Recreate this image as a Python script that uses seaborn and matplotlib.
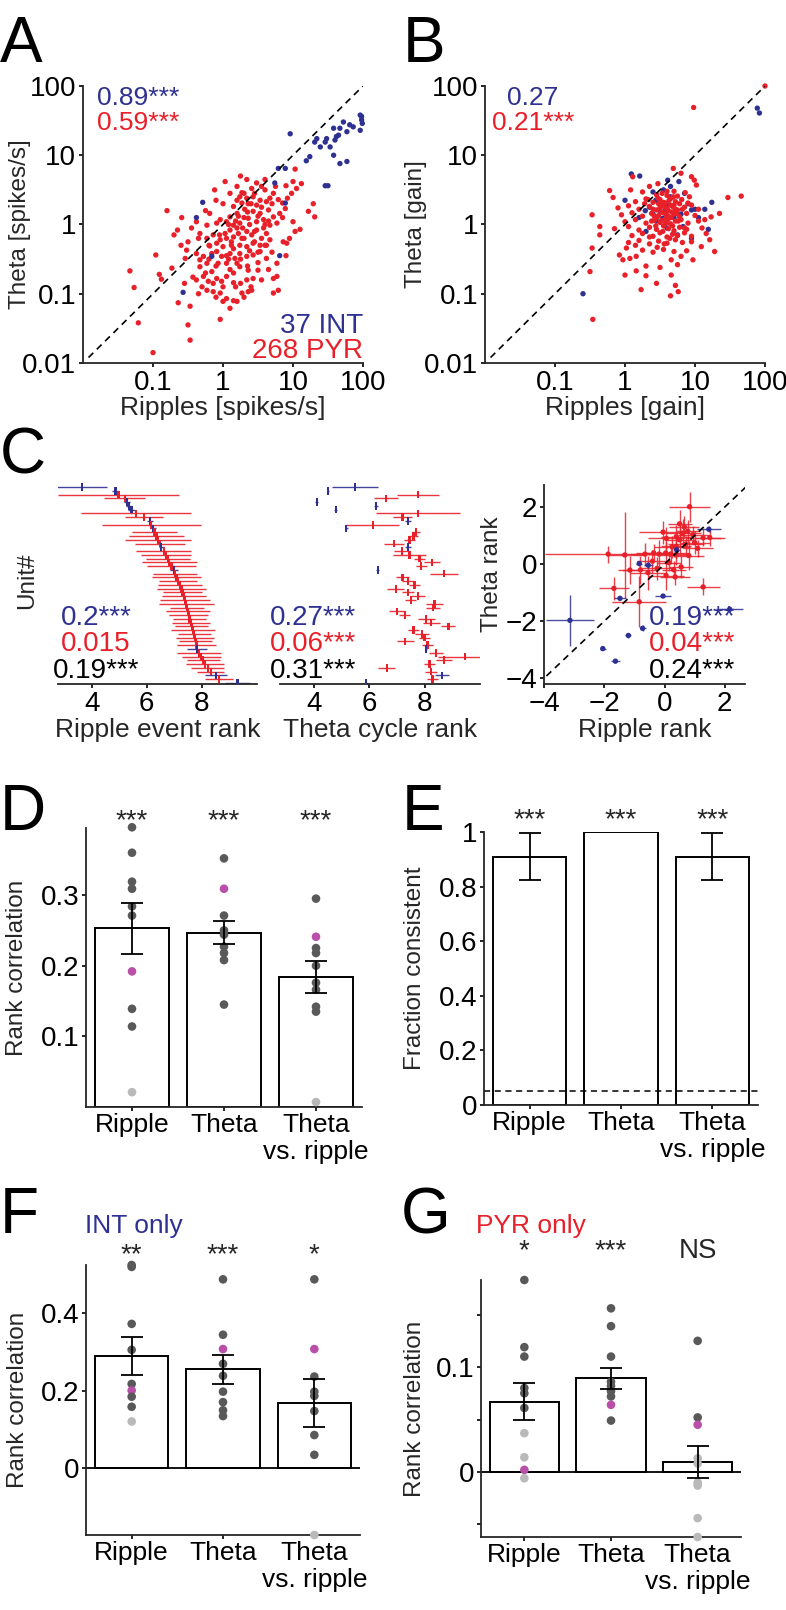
import numpy as np
import pandas as pd
import seaborn as sns
import matplotlib.pyplot as plt

sns.set_style("ticks")
plt.rcParams['font.family'] = ['Liberation Sans', 'DejaVu Sans']
plt.rcParams['axes.linewidth'] = 1.3
plt.rcParams['xtick.major.width'] = 1.2
plt.rcParams['ytick.major.width'] = 1.2
plt.rcParams['xtick.major.size'] = 3
plt.rcParams['ytick.major.size'] = 3
plt.rcParams['xtick.color'] = 'black'
plt.rcParams['ytick.color'] = 'black'

BLUE = '#2e3192'
RED = '#e8202a'
DARK = '#595959'
LIGHT = '#b9b9b9'
MAGENTA = '#b94fa9'

TICK = 20      # horizontal tick labels
XLAB = 19      # horizontal axis labels
YLAB = 17.5    # vertical axis labels
NOTE = 20      # correlation values, counts, stars

# ---------------- data ----------------
# A: log10 firing rates (ripples, theta)
a_int_log = [(0.96, 1.31), (1.96, 1.58), (1.98, 1.51), (1.99, 1.46), (1.96, 1.36), (1.81, 1.44),
             (1.72, 1.48), (1.67, 1.39), (1.65, 1.29), (1.62, 1.27), (1.58, 1.39), (1.48, 1.24),
             (1.46, 1.19), (1.53, 1.12), (1.58, 1.00), (1.67, 0.88), (1.77, 0.91), (1.34, 1.24),
             (1.24, 0.98), (1.19, 0.92), (1.46, 0.56), (1.50, 0.56), (0.89, 0.81), (0.79, 0.81),
             (0.74, 0.60), (0.89, 0.31), (-0.29, 0.32), (-0.38, 0.10), (-0.16, -0.46), (0.81, -0.45),
             (-0.57, -0.98), (1.86, 1.41), (1.77, 1.34), (1.60, 1.22), (1.39, 1.12), (1.31, 1.19),
             (1.98, 1.56)]
a_pyr_log = [(0.03, 0.62), (0.34, 0.65), (0.48, 0.60), (0.60, 0.65), (0.55, 0.55), (0.41, 0.52),
             (0.27, 0.46), (0.24, 0.40),
             (0.34, 0.38), (0.43, 0.40), (0.53, 0.35), (0.62, 0.33), (0.67, 0.38), (0.48, 0.28),
             (0.36, 0.30), (0.27, 0.31), (0.15, 0.26), (0.79, 0.36), (0.92, 0.38), (0.98, 0.45),
             (1.05, 0.52), (0.90, 0.56), (1.00, 0.62), (1.12, 0.59), (1.03, 0.80), (0.85, 0.31),
             (-0.19, 0.16), (-0.04, 0.07), (0.10, 0.11), (0.20, 0.16), (0.31, 0.22), (0.43, 0.19),
             (0.53, 0.16), (0.65, 0.21), (0.72, 0.11), (0.58, 0.07), (0.48, 0.04), (0.36, 0.09),
             (0.24, 0.02), (0.15, -0.01), (0.05, 0.04), (-0.09, 0.02), (-0.23, -0.01), (-0.38, 0.04),
             (0.81, 0.16), (0.89, 0.23), (0.77, 0.02), (0.67, -0.01), (1.00, 0.04), (1.22, 0.19),
             (1.29, 0.30), (1.31, 0.11),
             (-0.59, 0.10), (-0.65, -0.08), (-0.33, -0.13), (-0.23, -0.20), (-0.14, -0.15),
             (-0.04, -0.22), (0.03, -0.13), (0.10, -0.08), (0.15, -0.18), (0.22, -0.13), (0.27, -0.20),
             (0.34, -0.10), (0.41, -0.15), (0.48, -0.08), (0.55, -0.20), (0.62, -0.13), (0.67, -0.22),
             (0.53, -0.30), (0.43, -0.27), (0.34, -0.32), (0.24, -0.30), (0.12, -0.30), (0.00, -0.32),
             (-0.09, -0.27), (-0.19, -0.31), (1.10, -0.07), (1.03, -0.10), (0.86, -0.25), (0.91, -0.27),
             (-0.52, -0.37), (-0.38, -0.42), (-0.28, -0.46), (-0.16, -0.42), (-0.09, -0.39),
             (-0.02, -0.46), (0.10, -0.42), (0.17, -0.49), (0.24, -0.42), (0.34, -0.46), (0.43, -0.44),
             (0.53, -0.39), (0.62, -0.49), (0.77, -0.56), (0.20, -0.56), (0.05, -0.56), (-0.07, -0.56),
             (-0.23, -0.56), (-0.33, -0.51), (-0.54, -0.49), (-0.73, -0.63), (-0.96, -0.44),
             (-0.43, -0.76), (-0.38, -0.80), (-0.28, -0.75), (-0.21, -0.82), (-0.14, -0.85),
             (-0.09, -0.78), (-0.16, -0.68), (-0.33, -0.61), (0.24, -0.61), (0.36, -0.66), (0.43, -0.78),
             (0.34, -0.80), (0.50, -0.66), (0.15, -0.70), (0.05, -0.75), (-0.02, -0.82), (0.15, -0.84),
             (0.77, -0.75), (0.72, -0.78), (-0.91, -0.72), (-0.88, -0.79), (-1.33, -0.67),
             (-0.04, -0.99), (0.00, -1.11), (0.05, -1.07), (0.15, -1.10), (0.20, -1.11), (0.10, -1.21),
             (0.27, -0.99), (0.36, -0.97), (0.41, -0.95), (0.79, -0.95), (0.72, -0.99), (-1.27, -0.91),
             (-0.64, -1.13), (-0.47, -1.18), (-0.23, -0.95), (-0.14, -0.97),
             (-0.04, -1.37), (-0.50, -1.45), (-1.21, -1.42), (-1.00, -1.85), (-0.47, -1.67),
             (0.08, 0.00), (0.18, 0.05), (0.28, -0.05), (0.38, 0.00), (0.22, 0.12), (0.12, -0.25),
             (0.30, -0.20), (0.45, -0.25), (0.05, -0.45), (0.25, -0.50), (0.35, -0.60), (0.50, -0.55),
             (-0.10, -0.60), (0.10, -0.65), (0.60, -0.30), (0.55, 0.25), (0.40, 0.30), (0.65, 0.05),
             (0.20, 0.35), (-0.05, -0.15), (0.30, 0.10), (0.58, -0.05), (0.00, -0.90), (-0.30, -0.90),
             (0.25, -0.85), (0.45, -0.10), (0.70, -0.40), (-0.20, -0.30), (0.15, -0.35), (0.50, 0.12),
             (0.00, 0.30), (0.10, 0.45), (-0.10, 0.35), (0.20, 0.55), (-0.25, 0.20), (-0.35, -0.20),
             (-0.45, -0.05), (-0.50, -0.25), (0.30, 0.45), (0.45, 0.45), (0.60, 0.50), (0.70, 0.30),
             (0.75, 0.55), (0.85, 0.10), (0.95, -0.20), (0.90, -0.45), (0.65, -0.65), (0.55, -0.80),
             (0.40, -0.90), (0.30, -1.05), (-0.10, -1.05), (-0.35, -1.00), (-0.55, -0.85), (-0.60, -0.30),
             (-0.70, -0.15), (-0.80, 0.20), (0.05, -0.20), (0.20, -0.05), (0.35, 0.18), (0.50, -0.40),
             (0.62, -0.30), (0.38, -0.38), (0.08, -0.50), (-0.20, -0.50), (-0.25, -0.70), (0.18, -0.90),
             (0.60, 0.00), (0.72, 0.45), (-0.12, 0.50), (0.25, 0.70)]

# B: log10 gains (ripples, theta)
b_int_log = [(1.89, 1.68), (1.92, 1.61), (-0.60, -1.00), (0.09, 0.73), (0.21, 0.70), (0.00, 0.35),
             (0.40, 0.47), (0.61, 0.64), (0.77, 0.62), (0.65, 0.55), (0.29, 0.20), (0.95, 0.21),
             (1.00, 0.22), (1.14, 0.22), (1.24, 0.32), (1.19, -0.07), (0.57, 0.19), (0.59, 0.30),
             (0.54, 0.09), (0.83, -0.03), (0.44, 0.35), (0.50, 0.20), (0.70, 0.10), (0.60, -0.05),
             (0.45, 0.05), (0.80, 0.15), (0.35, 0.25), (0.90, 0.30), (0.65, 0.40), (0.55, 0.50),
             (1.05, 0.10), (0.75, -0.15), (0.30, -0.10), (0.95, -0.20), (0.40, 0.15), (0.85, 0.45),
             (0.20, 0.10)]
b_pyr_log = [(2.00, 2.00), (0.98, 1.69), (1.66, 0.41), (1.47, 0.39), (1.28, -0.39), (-0.46, -1.37),
             (-0.47, 0.14), (-0.50, -0.68), (-0.47, -0.34), (-0.22, 0.49), (-0.17, 0.39), (-0.36, -0.15),
             (-0.36, -0.03), (0.00, -0.73), (0.23, -0.94), (0.30, -0.74), (0.16, -0.67), (-0.03, -0.51),
             (0.65, -1.03), (0.76, -0.97), (0.66, -0.73), (0.66, -0.51), (0.80, -0.46), (0.97, -0.51),
             (0.07, -0.49), (0.16, -0.46), (-0.08, -0.44), (0.02, -0.34), (1.09, -0.32), (1.21, -0.22),
             (1.16, -0.13), (1.23, 0.11), (1.35, 0.16), (1.14, 0.07), (0.99, 0.64), (1.02, 0.57),
             (0.95, 0.69), (0.80, 0.74), (0.69, 0.81), (0.47, 0.59), (0.35, 0.55), (0.11, 0.69),
             (0.08, 0.50), (0.33, 0.36),
             (0.25, 0.47), (0.45, 0.43), (0.60, 0.48), (0.75, 0.41), (0.86, 0.46),
             (0.15, 0.33), (0.30, 0.37), (0.40, 0.32), (0.50, 0.36), (0.58, 0.31), (0.66, 0.38),
             (0.72, 0.33), (0.81, 0.36), (0.90, 0.31),
             (-0.10, 0.24), (0.05, 0.27), (0.20, 0.22), (0.35, 0.26), (0.45, 0.21), (0.52, 0.27),
             (0.60, 0.23), (0.68, 0.26), (0.75, 0.21), (0.85, 0.25), (0.95, 0.28), (1.05, 0.22),
             (-0.05, 0.14), (0.10, 0.17), (0.25, 0.12), (0.38, 0.16), (0.48, 0.13), (0.55, 0.17),
             (0.62, 0.12), (0.70, 0.15), (0.78, 0.11), (0.88, 0.16), (1.00, 0.13),
             (0.00, 0.04), (0.15, 0.07), (0.30, 0.02), (0.42, 0.06), (0.50, 0.03), (0.58, 0.08),
             (0.65, 0.01), (0.72, 0.05), (0.80, 0.07), (0.90, 0.02), (1.05, 0.05),
             (-0.15, -0.06), (0.05, -0.03), (0.20, -0.08), (0.35, -0.04), (0.45, -0.07), (0.55, -0.02),
             (0.62, -0.06), (0.70, -0.09), (0.78, -0.04), (0.88, -0.07), (1.10, -0.05),
             (0.10, -0.16), (0.25, -0.13), (0.40, -0.17), (0.50, -0.12), (0.60, -0.18), (0.68, -0.14),
             (0.75, -0.16), (0.85, -0.12), (0.95, -0.17),
             (0.05, -0.26), (0.20, -0.23), (0.35, -0.28), (0.48, -0.24), (0.60, -0.27), (0.72, -0.22),
             (0.82, -0.26), (0.95, -0.25),
             (0.25, -0.37), (0.40, -0.40), (0.55, -0.36), (0.70, -0.39), (0.88, -0.38),
             (0.30, -0.60), (0.50, -0.62), (0.75, -0.58), (0.45, -0.85), (0.72, -0.88),
             (0.45, 0.10), (0.52, 0.18), (0.58, 0.02), (0.62, 0.20), (0.66, 0.10), (0.70, 0.28),
             (0.48, 0.30), (0.55, 0.32), (0.63, 0.35), (0.68, -0.02), (0.74, 0.16), (0.40, 0.22),
             (0.44, -0.02), (0.52, 0.06), (0.57, 0.25), (0.61, 0.07), (0.65, 0.28), (0.72, 0.22),
             (0.50, 0.24), (0.54, -0.10), (0.59, 0.14), (0.67, 0.18), (0.76, 0.05), (0.42, 0.12),
             (0.47, 0.38), (0.60, 0.42), (0.69, 0.40), (0.78, 0.30), (0.38, 0.05), (0.35, -0.18),
             (0.82, 0.22), (0.64, -0.20), (0.56, -0.28), (0.46, -0.33), (0.70, 0.48), (0.28, 0.30),
             (0.15, -0.30), (0.85, -0.05), (0.92, 0.40), (0.53, 0.45)]

# C: units sorted by ripple rank (top to bottom)
c_type = ['INT', 'INT', 'PYR', 'PYR', 'INT', 'INT', 'INT', 'PYR', 'PYR', 'INT',
          'PYR', 'INT', 'PYR', 'PYR', 'PYR', 'PYR', 'INT', 'PYR', 'PYR', 'PYR',
          'PYR', 'PYR', 'INT', 'PYR', 'PYR', 'PYR', 'PYR', 'PYR', 'PYR', 'PYR',
          'PYR', 'PYR', 'PYR', 'PYR', 'PYR', 'PYR', 'PYR', 'PYR', 'PYR', 'PYR',
          'PYR', 'PYR', 'PYR', 'INT', 'PYR', 'PYR', 'PYR', 'PYR', 'PYR', 'PYR',
          'INT', 'PYR', 'INT']
c_ripple_rank = [3.66, 4.87, 4.97, 5.20, 5.28, 5.35, 5.45, 5.60, 5.90, 6.12,
                 6.16, 6.22, 6.28, 6.35, 6.42, 6.48, 6.53, 6.62, 6.70, 6.76,
                 6.82, 6.90, 6.98, 7.02, 7.08, 7.14, 7.20, 7.26, 7.30, 7.34,
                 7.38, 7.43, 7.46, 7.49, 7.52, 7.55, 7.60, 7.64, 7.68, 7.72,
                 7.75, 7.78, 7.80, 7.82, 7.90, 7.98, 8.05, 8.12, 8.22, 8.32,
                 8.50, 8.63, 9.29]
c_ripple_err = [0.9, 0.13, 2.2, 0.75, 0.12, 0.12, 0.12, 2.0, 0.7, 0.1,
                1.8, 0.12, 0.8, 1.0, 1.2, 0.9, 0.1, 1.0, 0.9, 0.8,
                1.0, 0.9, 0.15, 0.8, 0.9, 0.7, 0.8, 0.9, 0.7, 0.8,
                0.9, 1.0, 0.6, 0.8, 0.7, 0.6, 0.7, 0.6, 0.8, 0.6,
                0.7, 0.6, 0.7, 0.35, 0.8, 0.7, 0.6, 0.7, 0.6, 0.5,
                0.4, 0.5, 0.45]
c_theta_rank = [5.50, 4.51, 7.76, 6.61, 4.11, 6.24, 4.79, 7.76, 7.20, 7.40,
                6.13, 5.17, 7.70, 7.60, 7.45, 6.89, 7.40, 7.18, 7.46, 7.82,
                8.27, 7.88, 6.31, 8.70, 7.20, 7.40, 7.64, 6.96, 7.40, 7.76,
                7.50, 8.36, 8.30, 7.00, 7.29, 8.06, 8.24, 8.86, 7.60, 7.90,
                8.00, 7.30, 8.10, 8.05, 8.40, 9.45, 8.70, 8.18, 6.63, 8.23,
                8.64, 8.29, 5.89]
c_theta_err = [0.83, 0.05, 0.75, 0.43, 0.05, 0.08, 0.05, 1.5, 0.35, 0.1,
               0.95, 0.05, 0.15, 0.15, 0.2, 0.35, 0.1, 0.3, 0.6, 0.2,
               0.3, 0.2, 0.05, 0.5, 0.25, 0.2, 0.2, 0.3, 0.2, 0.25,
               0.2, 0.3, 0.25, 0.3, 0.2, 0.3, 0.3, 0.25, 0.2, 0.25,
               0.2, 0.3, 0.2, 0.05, 0.25, 0.95, 0.3, 0.2, 0.3, 0.2,
               0.25, 0.2, 0.05]

c3_pyr_x = [0.83, -1.87, -1.32, -1.68, -0.84, 1.28, -0.65, -0.36, -0.18, 0.04,
            0.20, 0.37, -1.15, -0.55, -0.25, 0.05, 0.35, 0.55, 0.30, 0.39,
            0.50, 0.60, 0.77, 0.94, 1.28, 1.50, 0.66, 0.50, -0.05, 0.06,
            0.39, 0.70, 1.00, -0.40, 0.15, 0.80, -0.80, 1.10, 0.25]
c3_pyr_y = [2.01, 0.35, 0.32, -0.85, -1.32, -0.80, 0.35, 0.39, 0.35, 0.39,
            0.35, 0.32, -0.21, -0.30, -0.15, -0.40, -0.45, -0.10, -0.20, 0.96,
            0.85, 1.08, 1.15, 1.03, 0.92, 0.93, 1.30, 1.41, 1.12, 0.90,
            0.62, 0.70, 0.75, 0.10, 0.05, 0.30, -0.20, 0.55, 0.60]
c3_pyr_xerr = [0.69, 2.1, 0.6, 0.5, 0.9, 0.55, 0.5, 0.6, 0.5, 0.7,
               0.6, 0.5, 0.4, 0.6, 0.5, 0.6, 0.5, 0.4, 0.4, 0.5,
               0.5, 0.6, 0.4, 0.5, 0.6, 0.5, 0.5, 0.4, 0.8, 0.6,
               0.5, 0.6, 0.5, 0.5, 0.4, 0.5, 0.6, 0.5, 0.6]
c3_pyr_yerr = [0.53, 0.3, 1.5, 0.4, 0.9, 0.3, 0.4, 0.3, 0.5, 0.4,
               0.3, 0.35, 0.5, 0.6, 0.4, 0.5, 0.3, 0.4, 0.3, 0.4,
               0.5, 0.5, 0.4, 0.3, 0.3, 0.3, 0.4, 0.5, 0.4, 0.4,
               0.4, 0.3, 0.4, 0.4, 0.3, 0.5, 0.5, 0.3, 0.4]
c3_int_x = [-0.84, -0.54, 1.47, -1.48, -0.05, 2.16, -3.14, -0.73, -2.05, -1.63, -1.20, 0.40]
c3_int_y = [0.02, -0.04, 1.22, -1.20, -1.12, -1.58, -1.97, -2.25, -2.96, -3.40, -2.50, 0.50]
c3_int_xerr = [0.10, 0.15, 0.40, 0.20, 0.25, 0.45, 0.80, 0.10, 0.10, 0.15, 0.10, 0.10]
c3_int_yerr = [0.10, 0.10, 0.10, 0.05, 0.05, 0.05, 0.90, 0.10, 0.05, 0.05, 0.10, 0.10]

# D-G: per-session rank correlations; kind d = dark, l = light, m = magenta
conds = ['Ripple', 'Theta', 'Theta\nvs. ripple']
d_mean = [0.253, 0.247, 0.184]
d_sem = [0.036, 0.016, 0.022]
d_rip = [0.396, 0.360, 0.319, 0.309, 0.284, 0.271, 0.192, 0.139, 0.114, 0.021]
d_rip_kind = 'ddddddmddl'
d_the = [0.352, 0.309, 0.271, 0.250, 0.244, 0.227, 0.218, 0.208, 0.145]
d_the_kind = 'dmddddddd'
d_tvr = [0.295, 0.241, 0.225, 0.218, 0.200, 0.176, 0.166, 0.142, 0.135, 0.007]
d_tvr_kind = 'dmdddddddl'

e_frac = [0.91, 1.0, 0.91]
e_sem = [0.087, 0.0, 0.087]
e_chance = 0.05

f_mean = [0.289, 0.255, 0.168]
f_sem = [0.050, 0.037, 0.062]
f_rip = [0.524, 0.519, 0.372, 0.305, 0.217, 0.200, 0.184, 0.158, 0.120]
f_rip_kind = 'dddddmddl'
f_the = [0.487, 0.344, 0.307, 0.269, 0.238, 0.197, 0.170, 0.149, 0.134]
f_the_kind = 'ddmdddddd'
f_tvr = [0.487, 0.307, 0.236, 0.197, 0.186, 0.147, 0.085, 0.034, -0.173]
f_tvr_kind = 'dmddddddl'

g_mean = [0.067, 0.0895, 0.0095]
g_sem = [0.0175, 0.010, 0.015]
g_rip = [0.183, 0.119, 0.110, 0.080, 0.075, 0.061, 0.037, 0.014, 0.002, -0.006]
g_rip_kind = 'ddddddllml'
g_the = [0.156, 0.139, 0.110, 0.086, 0.082, 0.077, 0.072, 0.064, 0.049]
g_the_kind = 'dddddddmd'
g_tvr = [0.125, 0.052, 0.045, 0.013, 0.008, -0.010, -0.013, -0.044, -0.062]
g_tvr_kind = 'ddmllllll'

# ---------------- figure ----------------
W, H = 786, 1610
fig = plt.figure(figsize=(W / 100, H / 100), dpi=100)


def box(l, t, r, b):
    return [l / W, 1 - b / H, (r - l) / W, (b - t) / H]


def ftext(x, y, s, size=NOTE, color='k', ha='center'):
    fig.text(x / W, 1 - y / H, s, fontsize=size, color=color, ha=ha, va='baseline')


def labels(ax, xl, yl, xpos, ypos):
    if xl:
        ax.set_xlabel(xl, fontsize=XLAB)
        ax.xaxis.set_label_coords(*xpos)
        ax.xaxis.label.set_va('center')
    else:
        ax.set_xlabel('')
    if yl:
        ax.set_ylabel(yl, fontsize=YLAB)
        ax.yaxis.set_label_coords(*ypos)
        ax.yaxis.label.set_va('center')
    else:
        ax.set_ylabel('')


def log_df(int_pts, pyr_pts, int_first):
    rows = []
    groups = [('INT', int_pts), ('PYR', pyr_pts)]
    if not int_first:
        groups = groups[::-1]
    for cell, pts in groups:
        for lx, ly in pts:
            rows.append((10 ** lx, 10 ** ly, cell))
    return pd.DataFrame(rows, columns=['ripples', 'theta', 'cell'])


def log_panel(ax, df):
    sns.scatterplot(data=df, x='ripples', y='theta', hue='cell',
                    palette={'INT': BLUE, 'PYR': RED}, s=15, linewidth=0,
                    legend=False, ax=ax, clip_on=False)
    ax.plot([0.012, 100], [0.012, 100], ls=(0, (4, 3)), color='k', lw=1.2)
    ax.set_xscale('log')
    ax.set_yscale('log')
    ax.set_xlim(0.01, 100)
    ax.set_ylim(0.01, 100)
    ax.set_xticks([0.1, 1, 10, 100], ['0.1', '1', '10', '100'])
    ax.set_yticks([0.01, 0.1, 1, 10, 100], ['0.01', '0.1', '1', '10', '100'])
    ax.minorticks_off()
    ax.tick_params(labelsize=TICK, pad=2)
    sns.despine(ax=ax)


# A
ax = fig.add_axes(box(83, 86, 363, 363))
log_panel(ax, log_df(a_int_log, a_pyr_log, int_first=False))
labels(ax, 'Ripples [spikes/s]', 'Theta [spikes/s]', (0.5, -(408 - 363) / 277), ((20 - 83) / 280, 0.5))
ftext(138, 105, '0.89***', size=19, color=BLUE)
ftext(138, 130, '0.59***', size=19, color=RED)
ftext(363, 333, '37 INT', color=BLUE, ha='right')
ftext(363, 358, '268 PYR', color=RED, ha='right')

# B
ax = fig.add_axes(box(485, 86, 765, 363))
log_panel(ax, log_df(b_int_log, b_pyr_log, int_first=True))
labels(ax, 'Ripples [gain]', 'Theta [gain]', (0.5, -(408 - 363) / 277), ((416 - 485) / 280, 0.5))
ftext(533, 105, '0.27', size=19, color=BLUE)
ftext(533, 130, '0.21***', size=19, color=RED)

# C
BAR = [(-0.3, -1), (0.3, -1), (0.3, 1), (-0.3, 1)]
dfc = pd.DataFrame({'unit': np.arange(len(c_type)), 'type': c_type,
                    'ripple': c_ripple_rank, 'ripple_err': c_ripple_err,
                    'theta': c_theta_rank, 'theta_err': c_theta_err})
pal = {'INT': BLUE, 'PYR': RED}

for l, r, col, err, xl in [(58, 257, 'ripple', 'ripple_err', 'Ripple event rank'),
                           (280, 480, 'theta', 'theta_err', 'Theta cycle rank')]:
    ax = fig.add_axes(box(l, 478, r, 684))
    for typ in ['PYR', 'INT']:
        m = dfc['type'] == typ
        ax.errorbar(dfc.loc[m, col], dfc.loc[m, 'unit'], xerr=dfc.loc[m, err], fmt='none',
                    ecolor=pal[typ], elinewidth=1.0, alpha=0.9)
    sns.scatterplot(data=dfc, x=col, y='unit', hue='type', palette=pal, marker=BAR, s=30,
                    linewidth=0, legend=False, ax=ax, zorder=3)
    ax.set_xlim(2.78, 10)
    ax.set_ylim(52.3, -2.4)
    ax.set_xticks([4, 6, 8])
    ax.set_yticks([])
    ax.tick_params(labelsize=TICK, pad=2)
    sns.despine(ax=ax, left=True)
    labels(ax, xl, None, (0.5, -(730 - 684) / 206), None)
    if col == 'ripple':
        ax.set_ylabel('Unit#', fontsize=YLAB)
        ax.yaxis.set_label_coords((27 - 58) / 199, 0.5)
        ax.yaxis.label.set_va('center')
ftext(96, 625, '0.2***', color=BLUE)
ftext(96, 651, '0.015', color=RED)
ftext(96, 678, '0.19***')
ftext(313, 625, '0.27***', color=BLUE)
ftext(313, 651, '0.06***', color=RED)
ftext(313, 678, '0.31***')

ax = fig.add_axes(box(544, 485, 745, 684))
ax.plot([-4.2, 2.7], [-4.2, 2.7], ls=(0, (4, 3)), color='k', lw=1.2, zorder=5)
ax.errorbar(c3_pyr_x, c3_pyr_y, xerr=c3_pyr_xerr, yerr=c3_pyr_yerr, fmt='none',
            ecolor=RED, elinewidth=1.0, alpha=0.85)
ax.errorbar(c3_int_x, c3_int_y, xerr=c3_int_xerr, yerr=c3_int_yerr, fmt='none',
            ecolor=BLUE, elinewidth=1.0, alpha=0.85)
df3 = pd.DataFrame({'x': c3_pyr_x + c3_int_x, 'y': c3_pyr_y + c3_int_y,
                    'type': ['PYR'] * len(c3_pyr_x) + ['INT'] * len(c3_int_x)})
sns.scatterplot(data=df3, x='x', y='y', hue='type', palette=pal, s=15, linewidth=0,
                legend=False, ax=ax, zorder=3)
ax.set_xlim(-4, 2.67)
ax.set_ylim(-4.2, 2.77)
ax.set_xticks([-4, -2, 0, 2])
ax.set_yticks([-4, -2, 0, 2])
ax.tick_params(labelsize=TICK, pad=2)
sns.despine(ax=ax)
labels(ax, 'Ripple rank', 'Theta rank', (0.5, -(730 - 684) / 199), ((492 - 544) / 201, 0.55))
ftext(692, 625, '0.19***', color=BLUE)
ftext(692, 651, '0.04***', color=RED)
ftext(692, 678, '0.24***')


# D-G
def dots_df(vals, kinds):
    rows = []
    for c, v, k in zip(conds, vals, kinds):
        for vi, ki in zip(v, k):
            rows.append((c, vi, ki))
    return pd.DataFrame(rows, columns=['cond', 'value', 'kind'])


def bar_panel(ax, means, sems, dots=None):
    sns.barplot(x=conds, y=means, order=conds, color='white', saturation=1,
                edgecolor='black', linewidth=1.4, errorbar=None, width=0.8, ax=ax, zorder=1)
    if dots is not None:
        sns.stripplot(data=dots, x='cond', y='value', hue='kind', order=conds,
                      hue_order=['d', 'l', 'm'], palette={'d': DARK, 'l': LIGHT, 'm': MAGENTA},
                      jitter=False, dodge=False, size=6.2, linewidth=0, legend=False,
                      ax=ax, zorder=3, clip_on=False)
    idx = [i for i in range(3) if sems[i] > 0]
    ax.errorbar(idx, [means[i] for i in idx], yerr=[sems[i] for i in idx], fmt='none',
                ecolor='k', elinewidth=1.3, capsize=8, capthick=1.3, zorder=4)
    ax.set_xlim(-0.5, 2.5)
    ax.tick_params(axis='x', labelsize=XLAB, pad=1)
    ax.tick_params(axis='y', labelsize=TICK, pad=2)
    sns.despine(ax=ax)


def stars(ax, marks, yfrac):
    for i, s in enumerate(marks):
        ax.text(i, yfrac, s, transform=ax.get_xaxis_transform(), ha='center',
                va='baseline', fontsize=NOTE)


ax = fig.add_axes(box(86, 828, 362, 1107))
bar_panel(ax, d_mean, d_sem, dots_df([d_rip, d_the, d_tvr], [d_rip_kind, d_the_kind, d_tvr_kind]))
ax.set_ylim(0, 0.395)
ax.set_yticks([0.1, 0.2, 0.3], ['0.1', '0.2', '0.3'])
labels(ax, None, 'Rank correlation', None, ((17 - 86) / 276, 0.5))
stars(ax, ['***', '***', '***'], 1.0)

ax = fig.add_axes(box(484, 832, 758, 1105))
bar_panel(ax, e_frac, e_sem)
ax.axhline(e_chance, ls=(0, (4, 3)), color='k', lw=1.1)
ax.set_ylim(0, 1)
ax.set_yticks([0, 0.2, 0.4, 0.6, 0.8, 1], ['0', '0.2', '0.4', '0.6', '0.8', '1'])
labels(ax, None, 'Fraction consistent', None, ((415 - 484) / 274, 0.5))
stars(ax, ['***', '***', '***'], 1.016)

ax = fig.add_axes(box(86, 1265, 360, 1535))
bar_panel(ax, f_mean, f_sem, dots_df([f_rip, f_the, f_tvr], [f_rip_kind, f_the_kind, f_tvr_kind]))
ax.axhline(0, color='k', lw=1.3, zorder=2)
ax.set_ylim(-0.173, 0.524)
ax.set_yticks([0, 0.2, 0.4], ['0', '0.2', '0.4'])
labels(ax, None, 'Rank correlation', None, ((18 - 86) / 274, 0.5))
stars(ax, ['**', '***', '*'], 1.009)
ftext(85, 1233, 'INT only', size=19, color=BLUE, ha='left')

ax = fig.add_axes(box(481, 1280, 741, 1537))
bar_panel(ax, g_mean, g_sem, dots_df([g_rip, g_the, g_tvr], [g_rip_kind, g_the_kind, g_tvr_kind]))
ax.axhline(0, color='k', lw=1.3, zorder=2)
ax.set_ylim(-0.062, 0.183)
ax.set_yticks([-0.05, 0, 0.05, 0.1, 0.15], ['', '0', '', '0.1', ''])
labels(ax, None, 'Rank correlation', None, ((415 - 481) / 260, 0.5))
stars(ax, ['*', '***', 'NS'], 1.084)
ftext(476, 1233, 'PYR only', size=19, color=RED, ha='left')

# panel letters
for letter, x, y in [('A', 0, 62), ('B', 403, 62), ('C', 0, 473), ('D', 0, 830),
                     ('E', 402, 830), ('F', 0, 1233), ('G', 401, 1233)]:
    ftext(x, y, letter, size=46, ha='left')

fig.savefig('out.png', dpi=100)
